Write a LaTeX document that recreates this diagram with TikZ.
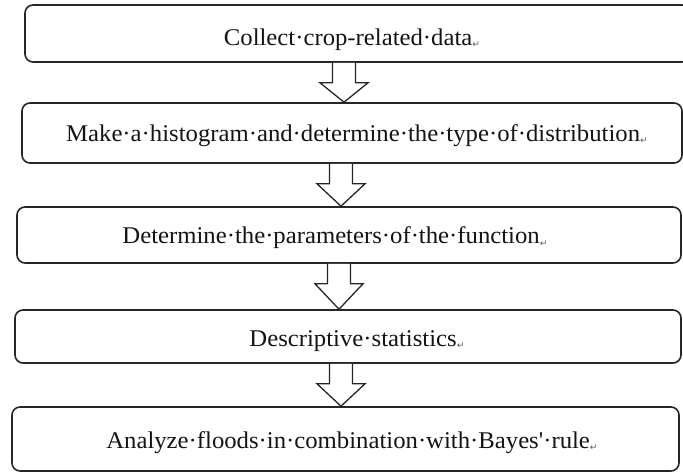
\documentclass[tikz,border=0pt]{standalone}
\usepackage{fontspec}
\setmainfont{Liberation Serif}
\newfontfamily\symf{DejaVu Sans}
\usetikzlibrary{calc}
\newcommand\pmark{{\symf\fontsize{9}{9}\selectfont\color{black!65}\raisebox{-2pt}{↵}}}
\newcommand\wide[1]{\scalebox{1.03}[1]{#1}}
\tikzset{
  stepbox/.style={draw=black!85, line width=1.6pt, rounded corners=8pt, fill=white, inner sep=0pt},
  txt/.style={anchor=base, inner sep=0pt, font=\fontsize{24}{28}\selectfont, text=black!92},
  barrow/.style={draw=black!85, line width=1.3pt, fill=white, line join=miter}
}
\newcommand\blockarr[3]{%
  \draw[barrow] let \p1=(#1.south), \p2=(#2.north) in
    (#3pt-11.5pt,\y1) -- (#3pt-11.5pt,\y1-20pt) -- (#3pt-24pt,\y1-20pt) --
    (#3pt,\y2) -- (#3pt+24pt,\y1-20pt) -- (#3pt+11.5pt,\y1-20pt) --
    (#3pt+11.5pt,\y1);%
}
\begin{document}
\begin{tikzpicture}[x=1pt,y=-1pt]
\useasboundingbox (0,0) rectangle (683,473);
\clip (0,0) rectangle (683,473);
\fill[white] (0,0) rectangle (683,473);
% boxes
\node[stepbox, minimum width=665pt, minimum height=57pt] (b1) at (357.5,33.5) {};
\node[stepbox, minimum width=660pt, minimum height=60pt] (b2) at (352,133) {};
\node[stepbox, minimum width=664pt, minimum height=56pt] (b3) at (349,235) {};
\node[stepbox, minimum width=666pt, minimum height=53pt] (b4) at (348,336.5) {};
\node[stepbox, minimum width=667pt, minimum height=64pt] (b5) at (345.5,439) {};
% texts
\node[txt] (t1) at (352,46) {\wide{Collect·crop-related·data\pmark}};
\node[txt] (t2) at (357,142) {\wide{Make·a·histogram·and·determine·the·type·of·distribution\pmark}};
\node[txt] (t3) at (335,244) {\wide{Determine·the·parameters·of·the·function\pmark}};
\node[txt] (t4) at (357,346) {\wide{Descriptive·statistics\pmark}};
\node[txt] (t5) at (352,448) {\wide{Analyze·floods·in·combination·with·Bayes\textquotesingle·rule\pmark}};
% block arrows
\blockarr{b1}{b2}{344}
\blockarr{b2}{b3}{341}
\blockarr{b3}{b4}{339}
\blockarr{b4}{b5}{341}
\end{tikzpicture}
\end{document}
